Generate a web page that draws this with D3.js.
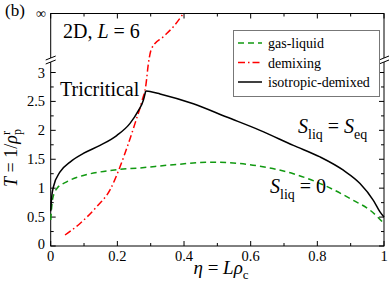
<!DOCTYPE html>
<html>
<head>
<meta charset="utf-8">
<script src="https://cdn.jsdelivr.net/npm/d3@7"></script>
<style>
  body { margin: 0; background: #fff; }
  svg text { font-family: "Liberation Serif", "DejaVu Serif", "Times New Roman", serif; fill: #000; }
</style>
</head>
<body>
<div id="chart"></div>
<script>
// values
var etaGas = [0, 0.006, 0.018, 0.048, 0.098, 0.148, 0.198, 0.268, 0.358, 0.488, 0.628, 0.728, 0.828, 0.908, 0.958, 1.0];
var tGas   = [0.45, 0.82, 0.99, 1.11, 1.22, 1.28, 1.32, 1.35, 1.40, 1.45, 1.38, 1.25, 1.03, 0.79, 0.62, 0.39];

var etaDemix = [0.043, 0.088, 0.138, 0.178, 0.208, 0.233, 0.253, 0.273, 0.286, 0.293, 0.303, 0.338, 0.368, 0.398];
var tDemix   = [0.19, 0.39, 0.68, 0.97, 1.37, 1.77, 2.12, 2.49, 2.8, 3.15, 4.3, 6.45, 11.3, Infinity];

var etaIso = [0, 0.003, 0.008, 0.028, 0.058, 0.098, 0.148, 0.198, 0.238, 0.263, 0.278, 0.285, 0.298, 0.328, 0.428, 0.528, 0.628, 0.728, 0.808, 0.878, 0.928, 0.968, 0.988, 1.0];
var tIso   = [0.6, 0.85, 1.02, 1.28, 1.45, 1.6, 1.74, 1.91, 2.12, 2.34, 2.52, 2.68, 2.67, 2.63, 2.46, 2.23, 2.0, 1.74, 1.54, 1.31, 1.08, 0.79, 0.59, 0.5];

var xTicks = [0, 0.2, 0.4, 0.6, 0.8, 1];
var xTickLabels = ["0", "0.2", "0.4", "0.6", "0.8", "1"];
var yTicks = [0, 0.5, 1, 1.5, 2, 2.5, 3];
var yTickLabels = ["0", "0.5", "1", "1.5", "2", "2.5", "3"];

var legendNames = ["gas-liquid", "demixing", "isotropic-demixed"];

var svgWidth = 390, svgHeight = 285;
var plotLeft = 50.7, plotRight = 384, plotTop = 13.5, plotBottom = 246, yBreak = 60;

var svg = d3.select("#chart").append("svg")
    .attr("width", svgWidth)
    .attr("height", svgHeight)
    .attr("font-family", "'Liberation Serif', 'DejaVu Serif', serif");

var xScale = d3.scaleLinear().domain([0, 1]).range([plotLeft, plotRight]);
// lower part of the broken axis is linear in T
var yLow = d3.scaleLinear().domain([0, 3]).range([plotBottom, 72.5]);
var tBreak = yLow.invert(yBreak);
// upper part runs in 1/T up to infinity
var yHigh = d3.scaleLinear().domain([1 / tBreak, 0]).range([yBreak, plotTop]);
function yPos(t) {
    return t <= tBreak ? yLow(t) : yHigh(1 / t);
}

// frame
svg.append("rect")
    .attr("x", plotLeft).attr("y", plotTop)
    .attr("width", plotRight - plotLeft).attr("height", plotBottom - plotTop)
    .attr("fill", "none").attr("stroke", "#000").attr("stroke-width", 1);

// ticks (pointing inwards)
var ticks = svg.append("g").attr("stroke", "#000").attr("stroke-width", 1);
d3.range(0, 1.0001, 0.1).forEach(function (v, i) {
    var len = i % 2 == 0 ? 5 : 3;
    ticks.append("line").attr("x1", xScale(v)).attr("x2", xScale(v)).attr("y1", plotBottom).attr("y2", plotBottom - len);
    ticks.append("line").attr("x1", xScale(v)).attr("x2", xScale(v)).attr("y1", plotTop).attr("y2", plotTop + len);
});
d3.range(0, 3.0001, 0.25).forEach(function (v, i) {
    var len = i % 2 == 0 ? 5 : 3;
    ticks.append("line").attr("x1", plotLeft).attr("x2", plotLeft + len).attr("y1", yLow(v)).attr("y2", yLow(v));
    ticks.append("line").attr("x1", plotRight).attr("x2", plotRight - len).attr("y1", yLow(v)).attr("y2", yLow(v));
});
ticks.append("line").attr("x1", plotLeft).attr("x2", plotLeft + 5).attr("y1", plotTop).attr("y2", plotTop);

// tick labels
svg.selectAll(".xlab").data(xTicks).enter().append("text")
    .attr("x", d => xScale(d))
    .attr("y", 261)
    .attr("text-anchor", "middle")
    .attr("font-size", 14.5)
    .text((d, i) => xTickLabels[i]);

svg.selectAll(".ylab").data(yTicks).enter().append("text")
    .attr("x", 45)
    .attr("y", d => yLow(d) + 5 - (d == 0 ? 2 : 0))
    .attr("text-anchor", "end")
    .attr("font-size", 14.5)
    .text((d, i) => yTickLabels[i]);

svg.append("text")
    .attr("x", 46).attr("y", plotTop + 4)
    .attr("text-anchor", "end")
    .attr("font-size", 14)
    .text("\u221e");

// curves
var line = d3.line()
    .x(d => xScale(d[0]))
    .y(d => yPos(d[1]))
    .curve(d3.curveMonotoneX);

var gasColor = "#119911";

svg.append("path")
    .datum(d3.zip(etaGas, tGas))
    .attr("d", line)
    .attr("fill", "none")
    .attr("stroke", gasColor)
    .attr("stroke-width", 1.5)
    .attr("stroke-dasharray", "6,4");

svg.append("path")
    .datum(d3.zip(etaDemix, tDemix))
    .attr("d", line)
    .attr("fill", "none")
    .attr("stroke", "#ff0000")
    .attr("stroke-width", 1.5)
    .attr("stroke-dasharray", "7,3,1.5,3");

// black curve drawn in two pieces so the tricritical corner stays sharp
var iso = d3.zip(etaIso, tIso);
var peak = d3.maxIndex(tIso);
[iso.slice(0, peak + 1), iso.slice(peak)].forEach(function (part) {
    svg.append("path")
        .datum(part)
        .attr("d", line)
        .attr("fill", "none")
        .attr("stroke", "#000")
        .attr("stroke-width", 1.5);
});

// axis breaks
[plotLeft, plotRight].forEach(function (x) {
    svg.append("rect").attr("x", x - 2).attr("y", yBreak - 2).attr("width", 4).attr("height", 4).attr("fill", "#fff");
    [-2, 2].forEach(function (d) {
        svg.append("line")
            .attr("x1", x - 5).attr("y1", yBreak + d + 2)
            .attr("x2", x + 5).attr("y2", yBreak + d - 2)
            .attr("stroke", "#000").attr("stroke-width", 1);
    });
});

// legend
var legend = svg.append("g");
legend.append("rect")
    .attr("x", 233.5).attr("y", 30.5)
    .attr("width", 146).attr("height", 66)
    .attr("fill", "#fff")
    .attr("stroke", "#777")
    .attr("stroke-width", 1);
var legendStyles = [
    { color: gasColor, dash: "6,4" },
    { color: "#ff0000", dash: "7,3,1.5,3" },
    { color: "#000", dash: null }
];
legendNames.forEach(function (name, i) {
    var y = 43 + i * 19.5;
    legend.append("line")
        .attr("x1", 238).attr("x2", 262)
        .attr("y1", y).attr("y2", y)
        .attr("stroke", legendStyles[i].color)
        .attr("stroke-width", 1.5)
        .attr("stroke-dasharray", legendStyles[i].dash);
    legend.append("text")
        .attr("x", 268).attr("y", y + 5)
        .attr("font-size", 14)
        .text(name);
});

// annotations
svg.append("text").attr("x", 5).attr("y", 16).attr("font-size", 17).text("(b)");

var t1 = svg.append("text").attr("x", 63).attr("y", 38).attr("font-size", 20);
t1.append("tspan").text("2D, ");
t1.append("tspan").attr("font-style", "italic").text("L");
t1.append("tspan").text(" = 6");

svg.append("text").attr("x", 60).attr("y", 96).attr("font-size", 20).text("Tricritical");

var s1 = svg.append("text").attr("x", 298).attr("y", 133).attr("font-size", 20);
s1.append("tspan").attr("font-style", "italic").text("S");
s1.append("tspan").attr("font-size", 14).attr("dy", 6).text("liq");
s1.append("tspan").attr("dy", -6).text(" = ");
s1.append("tspan").attr("font-style", "italic").text("S");
s1.append("tspan").attr("font-size", 14).attr("dy", 6).text("eq");

var s2 = svg.append("text").attr("x", 270).attr("y", 193).attr("font-size", 20);
s2.append("tspan").attr("font-style", "italic").text("S");
s2.append("tspan").attr("font-size", 14).attr("dy", 6).text("liq");
s2.append("tspan").attr("dy", -6).text(" = 0");

// axis titles
var xt = svg.append("text").attr("x", 221).attr("y", 274).attr("text-anchor", "middle").attr("font-size", 19);
xt.append("tspan").attr("font-style", "italic").text("\u03b7");
xt.append("tspan").text(" = ");
xt.append("tspan").attr("font-style", "italic").text("L\u03c1");
xt.append("tspan").attr("font-size", 13).attr("dy", 5).text("c");

var yt = svg.append("text")
    .attr("transform", "translate(17," + 158 + ") rotate(-90)")
    .attr("text-anchor", "middle")
    .attr("font-size", 18);
yt.append("tspan").attr("font-style", "italic").text("T");
yt.append("tspan").text(" = 1/");
yt.append("tspan").attr("font-style", "italic").text("\u03c1");
yt.append("tspan").attr("font-size", 12).attr("dy", 4).text("p");
yt.append("tspan").attr("font-size", 12).attr("dx", -6).attr("dy", -11).text("r");
</script>
</body>
</html>
